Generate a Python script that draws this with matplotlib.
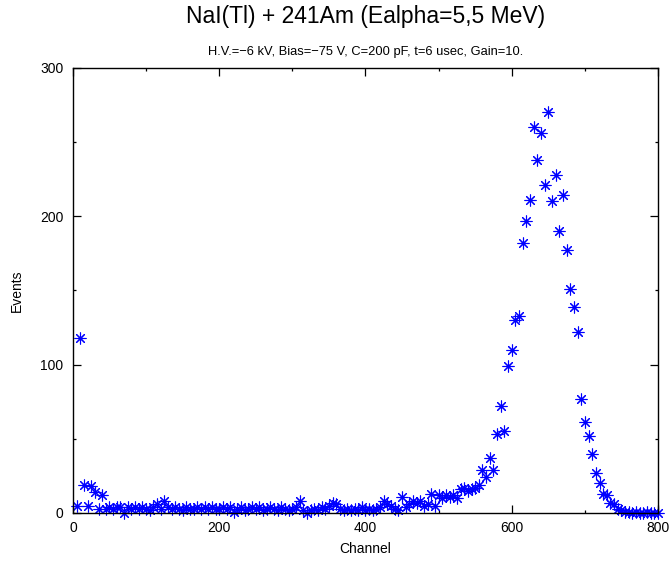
import numpy as np
import matplotlib
matplotlib.use("Agg")
import matplotlib.pyplot as plt
from matplotlib.ticker import MultipleLocator

plt.rcParams["font.family"] = ["Liberation Sans", "DejaVu Sans"]

# ── data: spectrum, 5-channel bins ──────────────────────────────────────────
channels = np.arange(5, 805, 5)
events = [
    5, 118, 19, 5, 18, 14, 3, 12, 3, 4,          # 5-50
    3, 4, 4, 0, 4, 3, 4, 3, 4, 3,                # 55-100
    2, 4, 6, 3, 8, 4, 3, 4, 3, 2,                # 105-150
    4, 3, 3, 4, 3, 4, 3, 4, 3, 3,                # 155-200
    4, 3, 4, 1, 3, 4, 2, 3, 4, 3,                # 205-250
    4, 2, 3, 4, 3, 2, 4, 3, 2, 3,                # 255-300
    4, 8, 2, 0, 2, 3, 2, 4, 3, 5,                # 305-350
    7, 6, 3, 2, 3, 2, 3, 2, 4, 2,                # 355-400
    3, 2, 3, 4, 8, 6, 5, 3, 2, 11,               # 405-450
    4, 6, 8, 7, 8, 5, 6, 13, 5, 12,              # 455-500
    10, 12, 11, 12, 10, 16, 17, 15, 16, 17,      # 505-550
    19, 29, 24, 37, 29, 53, 72, 55, 99, 110,     # 555-600
    130, 133, 182, 197, 211, 260, 238, 256, 221, 270,   # 605-650
    210, 228, 190, 214, 177, 151, 139, 122, 77, 61,     # 655-700
    52, 40, 27, 20, 13, 12, 7, 6, 3, 2,          # 705-750
    1, 1, 0, 1, 0, 0, 1, 0, 0, 0,                # 755-800
]

TITLE = "NaI(Tl) + 241Am (Ealpha=5,5 MeV)"
SUBTITLE = "H.V.=\u22126 kV, Bias=\u221275 V, C=200 pF, t=6 usec, Gain=10."

fig = plt.figure(figsize=(6.69, 5.62), dpi=100)
ax = fig.add_axes([0.109, 0.0872, 0.8746, 0.7923])

ax.plot(channels, events, linestyle="none", marker=(8, 2, 0), markersize=8.5,
        markeredgewidth=0.8, color="#0000ff", clip_on=False)
# small dot in the centre of each asterisk
ax.plot(channels, events, linestyle="none", marker="o", markersize=2.2,
        markeredgewidth=0, color="#0000ff", clip_on=False)

ax.set_xlim(0, 800)
ax.set_ylim(0, 300)
ax.xaxis.set_major_locator(MultipleLocator(200))
ax.xaxis.set_minor_locator(MultipleLocator(100))
ax.yaxis.set_major_locator(MultipleLocator(100))
ax.yaxis.set_minor_locator(MultipleLocator(50))
ax.tick_params(which="both", direction="in", top=True, right=True,
               labelsize=10, width=0.9)
ax.tick_params(which="major", length=5.5)
ax.tick_params(which="minor", length=2.5)
ax.tick_params(axis="x", pad=6)
ax.tick_params(axis="y", pad=7)
for s in ax.spines.values():
    s.set_linewidth(1.0)

ax.set_xlabel("Channel", fontsize=10)
ax.set_ylabel("Events", fontsize=10)
ax.xaxis.set_label_coords(0.5, -0.066)
ax.yaxis.set_label_coords(-0.084, 0.5)

fig.text(0.546, 0.959, TITLE, ha="center", va="baseline", fontsize=16.5)
fig.text(0.546, 0.902, SUBTITLE, ha="center", va="baseline", fontsize=9.3)

fig.savefig("out.png", dpi=100)
